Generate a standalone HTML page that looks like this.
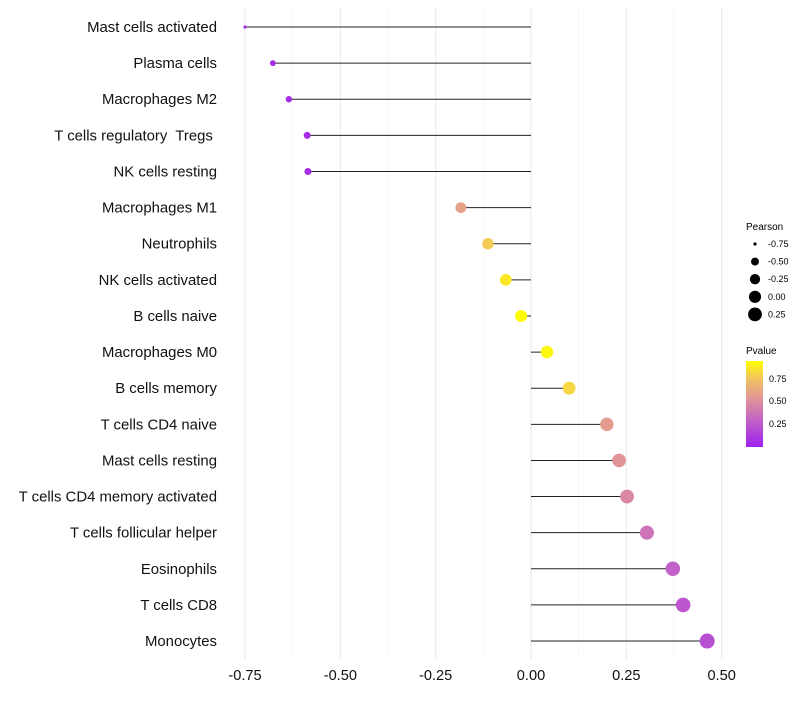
<!DOCTYPE html>
<html><head><meta charset="utf-8"><style>
body{margin:0;background:#fff;font-family:"Liberation Sans",Arial,sans-serif}
text{white-space:pre}
</style></head><body>
<svg id="chart" width="800" height="700" xmlns="http://www.w3.org/2000/svg">
<defs><linearGradient id="pg" x1="0" y1="1" x2="0" y2="0">
<stop offset="0" stop-color="#A020F0"/><stop offset="0.3" stop-color="#C060C8"/><stop offset="0.55" stop-color="#E0929A"/><stop offset="0.8" stop-color="#F2C55E"/><stop offset="1" stop-color="#FFFF00"/></linearGradient></defs>
<g id="grid"></g><g id="marks"></g><g id="labels"></g>
<g font-size="9" fill="#000">
<text x="746" y="230" font-size="10">Pearson</text>
<g id="sizeLegend"></g>
</g>
<g font-size="9">
<text x="746" y="354" font-size="10">Pvalue</text>
<rect x="746" y="361" width="17" height="86" fill="url(#pg)"/>
<text x="769" y="382">0.75</text>
<text x="769" y="404">0.50</text>
<text x="769" y="427">0.25</text>
</g>
</svg>
<script>
const cells=["Mast cells activated","Plasma cells","Macrophages M2","T cells regulatory  Tregs ","NK cells resting","Macrophages M1","Neutrophils","NK cells activated","B cells naive","Macrophages M0","B cells memory","T cells CD4 naive","Mast cells resting","T cells CD4 memory activated","T cells follicular helper","Eosinophils","T cells CD8","Monocytes"];
const pearson=[-0.75,-0.677,-0.635,-0.587,-0.585,-0.184,-0.113,-0.066,-0.026,0.042,0.10,0.199,0.231,0.252,0.304,0.372,0.399,0.462];
const pvalues=[0.03,0.04,0.05,0.06,0.06,0.62,0.82,0.92,0.99,0.97,0.86,0.6,0.56,0.5,0.4,0.3,0.26,0.22];
const xTicks=[-0.75,-0.5,-0.25,0,0.25,0.5];
const xTickLabels=["-0.75","-0.50","-0.25","0.00","0.25","0.50"];
const sizeLegendVals=[-0.75,-0.5,-0.25,0,0.25];
const sizeLegendLabels=["-0.75","-0.50","-0.25","0.00","0.25"];
const NS="http://www.w3.org/2000/svg";
const X=v=>531+v*381.3;
const Y=i=>27+i*36.12;
const R=v=>v<=-0.74?1.6:Math.sqrt(Math.max(2,5.5+(v+0.75)*42));
const stops=[[0,[160,32,240]],[0.3,[192,96,200]],[0.55,[224,146,154]],[0.8,[242,197,94]],[1,[255,255,0]]];
function col(p){for(let k=1;k<stops.length;k++){if(p<=stops[k][0]){const a=stops[k-1],b=stops[k],t=(p-a[0])/(b[0]-a[0]);return "rgb("+a[1].map((c,j)=>Math.round(c+(b[1][j]-c)*t)).join(",")+")";}}return "rgb(255,255,0)";}
function mk(tag,at,parent){const e=document.createElementNS(NS,tag);for(const k in at)e.setAttribute(k,at[k]);parent.appendChild(e);return e;}
const grid=document.getElementById('grid'),marks=document.getElementById('marks'),labels=document.getElementById('labels');
for(let i=0;i<xTicks.length;i++){
 const g=mk('line',{x1:X(xTicks[i]),x2:X(xTicks[i]),y1:8,y2:660,stroke:'#ebebeb','stroke-width':1.1},grid);
 
 
 if(i<xTicks.length-1){const m=(xTicks[i]+xTicks[i+1])/2;const gm=mk('line',{x1:X(m),x2:X(m),y1:8,y2:660,stroke:'#f3f3f3','stroke-width':0.6},grid);
 
 }
 const t=mk('text',{x:X(xTicks[i]),y:680,'text-anchor':'middle','font-size':14.6,fill:'#111'},labels);
 t.textContent=xTickLabels[i];
 
 
}
cells.forEach((c,i)=>{
 const y=Y(i);
 const l=mk('line',{x1:X(0),x2:X(pearson[i]),y1:y,y2:y,stroke:'#222','stroke-width':1},marks);
 
 
 const p=mk('circle',{cx:X(pearson[i]),cy:y,r:R(pearson[i]),fill:col(pvalues[i])},marks);
 
 
 const t=mk('text',{x:217,y:y+5,'text-anchor':'end','font-size':14.9,fill:'#111'},labels);
 t.textContent=c;
 
 
});
const sl=document.getElementById('sizeLegend');
sizeLegendVals.forEach((v,i)=>{
 const y=244+i*17.6;
 const c=mk('circle',{cx:755,cy:y,r:R(v),fill:'#000'},sl);
 
 
 const t=mk('text',{x:768,y:y+3},sl);
 t.textContent=sizeLegendLabels[i];
 
 
});
</script>
</body></html>
